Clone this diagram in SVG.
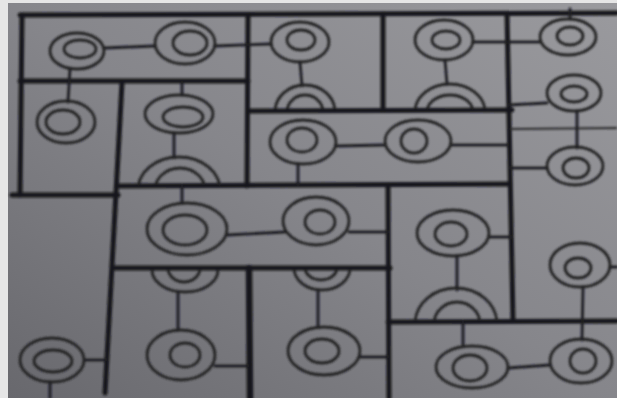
<svg xmlns="http://www.w3.org/2000/svg" width="617" height="398" viewBox="0 0 617 398">
<defs>
<linearGradient id="paper" x1="1" y1="0" x2="0" y2="1">
<stop offset="0" stop-color="#9a9a9e"/>
<stop offset="0.5" stop-color="#86868b"/>
<stop offset="1" stop-color="#68686d"/>
</linearGradient>
<filter id="soft" x="-5%" y="-5%" width="110%" height="110%"><feGaussianBlur stdDeviation="0.8"/></filter>
<clipPath id="cB2"><rect x="250" y="0" width="132" height="109"/></clipPath>
<clipPath id="cC2"><rect x="385" y="0" width="122" height="109"/></clipPath>
<clipPath id="cH2"><rect x="123" y="83" width="124" height="102"/></clipPath>
<clipPath id="cJ2"><rect x="390" y="186" width="122" height="135"/></clipPath>
<clipPath id="cK1"><rect x="115" y="269" width="132" height="129"/></clipPath>
<clipPath id="cL1"><rect x="250" y="269" width="137" height="129"/></clipPath>
</defs>
<style>
.wall{stroke:#18181a;stroke-width:5;stroke-linecap:round;fill:none}
.thin{stroke:#2a2a2c;stroke-width:2;fill:none}
.con{stroke:#1f1f21;stroke-width:2.8;stroke-linecap:round;fill:none}
.ring{stroke:#222224;stroke-width:2.8;fill:none}
</style>
<rect x="0" y="0" width="617" height="398" fill="#e6e6e6"/>
<rect x="8" y="3" width="609" height="395" fill="url(#paper)"/>
<g filter="url(#soft)">
<g id="panels">
<path class="wall" d="M20 15 L617 13"/>
<path class="wall" d="M22 15 L20 195"/>
<path class="wall" d="M20 81 L248 81"/>
<path class="wall" d="M248 15 L247 186"/>
<path class="wall" d="M122 83 L105 393"/>
<path class="wall" d="M12 195 L118 195"/>
<path class="wall" d="M118 186 L510 184"/>
<path class="wall" d="M248 111 L512 110"/>
<path class="wall" d="M383 14 L383 110"/>
<path class="wall" d="M507 14 L513 320"/>
<path class="thin" d="M510 129 L617 128"/>
<path class="wall" d="M115 268 L390 268"/>
<path class="wall" d="M388 186 L389 398"/>
<path class="wall" d="M249 268 L250 398" style="stroke-width:6.5"/>
<path class="wall" d="M388 322 L617 321"/>
</g>
<g id="connectors">
<path class="con" d="M104 48 L155 46"/>
<path class="con" d="M215 46 L271 44"/>
<path class="con" d="M70 68 L68 102"/>
<path class="con" d="M300 62 L302 86"/>
<path class="con" d="M473 42 L540 42"/>
<path class="con" d="M445 60 L447 84"/>
<path class="con" d="M570 9 L570 19"/>
<path class="con" d="M508 105 L547 103"/>
<path class="con" d="M577 111 L577 148"/>
<path class="con" d="M510 168 L547 168"/>
<path class="con" d="M610 267 L617 267"/>
<path class="con" d="M583 287 L582 340"/>
<path class="con" d="M336 146 L385 145"/>
<path class="con" d="M451 145 L508 145"/>
<path class="con" d="M298 164 L298 185"/>
<path class="con" d="M182 83 L182 95"/>
<path class="con" d="M174 133 L174 158"/>
<path class="con" d="M182 186 L182 203"/>
<path class="con" d="M227 235 L285 232"/>
<path class="con" d="M349 232 L388 232"/>
<path class="con" d="M489 237 L512 237"/>
<path class="con" d="M457 256 L457 290"/>
<path class="con" d="M178 292 L178 330"/>
<path class="con" d="M215 366 L248 366"/>
<path class="con" d="M318 290 L318 328"/>
<path class="con" d="M360 357 L388 357"/>
<path class="con" d="M463 322 L463 347"/>
<path class="con" d="M508 368 L550 365"/>
<path class="con" d="M85 360 L106 360"/>
<path class="con" d="M50 382 L50 398"/>
</g>
<g id="A1"><ellipse class="ring" cx="77" cy="51" rx="27" ry="18"/><ellipse class="ring" cx="80" cy="49" rx="16" ry="9"/></g>
<g id="A2"><ellipse class="ring" cx="185" cy="43" rx="30" ry="21"/><ellipse class="ring" cx="190" cy="43" rx="17" ry="12"/></g>
<g id="B1"><ellipse class="ring" cx="300" cy="42" rx="29" ry="20"/><ellipse class="ring" cx="301" cy="40" rx="14" ry="10"/></g>
<g id="B2" clip-path="url(#cB2)"><ellipse class="ring" cx="305" cy="112" rx="30" ry="27"/><ellipse class="ring" cx="305" cy="112" rx="18" ry="17"/></g>
<g id="C1"><ellipse class="ring" cx="444" cy="40" rx="29" ry="20"/><ellipse class="ring" cx="446" cy="40" rx="14" ry="9"/></g>
<g id="C2" clip-path="url(#cC2)"><ellipse class="ring" cx="450" cy="112" rx="35" ry="28"/><ellipse class="ring" cx="450" cy="112" rx="23" ry="17"/></g>
<g id="D1"><ellipse class="ring" cx="568" cy="37" rx="28" ry="18"/><ellipse class="ring" cx="570" cy="36" rx="13" ry="9"/></g>
<g id="D2"><ellipse class="ring" cx="574" cy="93" rx="27" ry="18"/><ellipse class="ring" cx="574" cy="94" rx="13" ry="8"/></g>
<g id="E1"><ellipse class="ring" cx="575" cy="166" rx="28" ry="19"/><ellipse class="ring" cx="576" cy="168" rx="13" ry="10"/></g>
<g id="E2"><ellipse class="ring" cx="580" cy="265" rx="30" ry="22"/><ellipse class="ring" cx="578" cy="268" rx="13" ry="10"/></g>
<g id="F1"><ellipse class="ring" cx="303" cy="142" rx="33" ry="22"/><ellipse class="ring" cx="302" cy="140" rx="15" ry="12"/></g>
<g id="F2"><ellipse class="ring" cx="418" cy="141" rx="33" ry="21"/><ellipse class="ring" cx="414" cy="141" rx="13" ry="12"/></g>
<g id="G1"><ellipse class="ring" cx="66" cy="122" rx="29" ry="21"/><ellipse class="ring" cx="63" cy="122" rx="17" ry="12"/></g>
<g id="H1"><ellipse class="ring" cx="179" cy="114" rx="34" ry="19"/><ellipse class="ring" cx="183" cy="117" rx="20" ry="10"/></g>
<g id="H2" clip-path="url(#cH2)"><ellipse class="ring" cx="179" cy="190" rx="41" ry="33"/><ellipse class="ring" cx="180" cy="190" rx="25" ry="22"/></g>
<g id="I1"><ellipse class="ring" cx="187" cy="229" rx="40" ry="26"/><ellipse class="ring" cx="185" cy="230" rx="22" ry="15"/></g>
<g id="I2"><ellipse class="ring" cx="316" cy="221" rx="33" ry="24"/><ellipse class="ring" cx="320" cy="222" rx="15" ry="12"/></g>
<g id="J1"><ellipse class="ring" cx="453" cy="233" rx="36" ry="23"/><ellipse class="ring" cx="451" cy="234" rx="16" ry="12"/></g>
<g id="J2" clip-path="url(#cJ2)"><ellipse class="ring" cx="456" cy="324" rx="41" ry="36"/><ellipse class="ring" cx="457" cy="324" rx="23" ry="22"/></g>
<g id="K1" clip-path="url(#cK1)"><ellipse class="ring" cx="185" cy="270" rx="33" ry="22"/><ellipse class="ring" cx="184" cy="268" rx="16" ry="14"/></g>
<g id="K2"><ellipse class="ring" cx="181" cy="355" rx="34" ry="25"/><ellipse class="ring" cx="185" cy="355" rx="15" ry="12"/></g>
<g id="L1" clip-path="url(#cL1)"><ellipse class="ring" cx="322" cy="268" rx="28" ry="22"/><ellipse class="ring" cx="321" cy="268" rx="16" ry="12"/></g>
<g id="L2"><ellipse class="ring" cx="324" cy="351" rx="36" ry="24"/><ellipse class="ring" cx="322" cy="351" rx="17" ry="12"/></g>
<g id="M1"><ellipse class="ring" cx="472" cy="367" rx="36" ry="21"/><ellipse class="ring" cx="470" cy="368" rx="17" ry="13"/></g>
<g id="M2"><ellipse class="ring" cx="581" cy="361" rx="31" ry="22"/><ellipse class="ring" cx="583" cy="361" rx="13" ry="12"/></g>
<g id="N1"><ellipse class="ring" cx="52" cy="360" rx="32" ry="22"/><ellipse class="ring" cx="53" cy="361" rx="19" ry="11"/></g>
</g>
</svg>
